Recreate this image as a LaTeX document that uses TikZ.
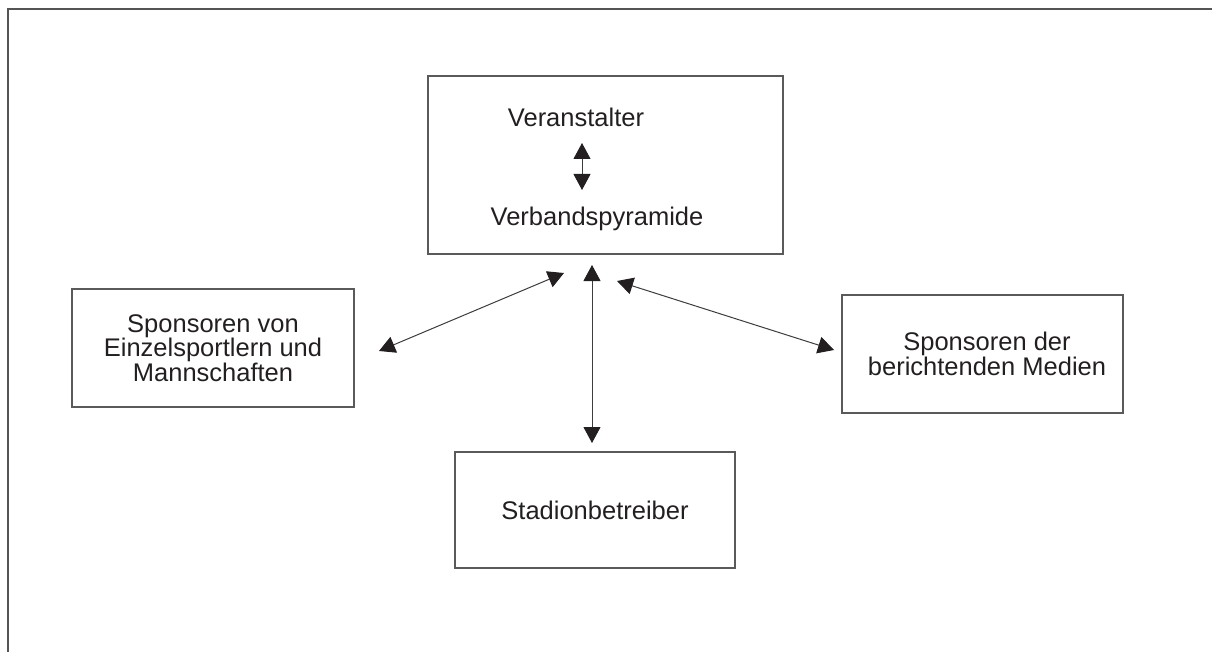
\documentclass[tikz,border=0pt]{standalone}
\usepackage{fontspec}
\setmainfont{Liberation Sans}
\usetikzlibrary{arrows.meta}
\definecolor{framegray}{HTML}{555555}
\definecolor{boxgray}{HTML}{5A5A5A}
\definecolor{textdark}{HTML}{231F20}
\definecolor{linegray}{HTML}{3C3C3C}

\begin{document}
\begin{tikzpicture}[x=1pt,y=-1pt,
	box/.style={rectangle, draw=boxgray, line width=1.2pt, inner sep=0pt, text=textdark, align=center, font=\fontsize{25.5}{24.5}\selectfont},
	txt/.style={text=textdark, inner sep=0pt, font=\fontsize{25.5}{24.5}\selectfont},
	link/.style={{Triangle[length=16pt,width=17pt,color=textdark]}-{Triangle[length=16pt,width=17pt,color=textdark]}, draw=linegray, line width=1pt}]
	\useasboundingbox (0,0) rectangle (1212,652);
	\draw[framegray, line width=1.5pt] (8,652) -- (8,9) -- (1212,9);

	\node (veran) at (605.5,165) [box, minimum width=355pt, minimum height=178pt] {};
		\node (veranstalter) at (576,127) [txt, anchor=base] {Veranstalter};
		\node (pyramide) at (597,226) [txt, anchor=base] {Verbandspyramide};
	\node (sponsor) at (213,348) [box, minimum width=282pt, minimum height=118pt] {Sponsoren von\\Einzelsportlern und\\Mannschaften};
	\node (medien) at (982.5,354) [box, minimum width=281pt, minimum height=118pt] {\hspace*{9pt}Sponsoren der\\\hspace*{9pt}berichtenden Medien};
	\node (stadion) at (595,510) [box, minimum width=280pt, minimum height=116pt] {Stadionbetreiber};

	\coordinate (v1) at (582,143);
	\coordinate (v2) at (582,190);
	\coordinate (s1) at (379,351);
	\coordinate (s2) at (564,273);
	\coordinate (b1) at (592,265);
	\coordinate (b2) at (592,443);
	\coordinate (m1) at (617,281);
	\coordinate (m2) at (834,350);
	\draw[link] (v1) -- (v2);
	\draw[link] (s1) -- (s2);
	\draw[link] (b1) -- (b2);
	\draw[link] (m1) -- (m2);
\end{tikzpicture}
\end{document}
